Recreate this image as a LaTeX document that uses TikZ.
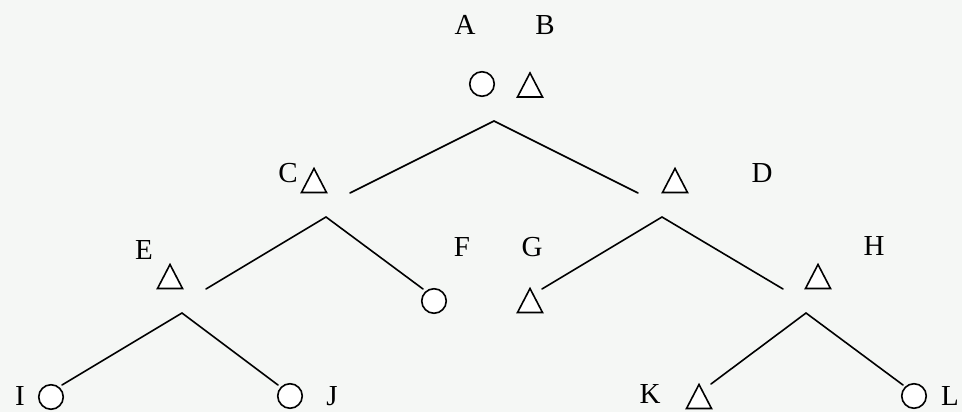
\documentclass[tikz,border=0pt]{standalone}
\usepackage{fontspec}
\setmainfont{Liberation Serif}
\definecolor{bgc}{HTML}{F5F7F5}
\tikzset{
  lbl/.style={inner sep=0pt, font=\fontsize{29}{31}\selectfont},
  edge/.style={line width=1.6pt, line cap=round},
  shp/.style={line width=1.6pt, fill=white, draw=black},
  circ/.style={shp, circle, inner sep=0pt, minimum size=24.5pt},
  tri/.pic={\path[shp] (-12.5,12) -- (0,-12) -- (12.5,12) -- cycle;}
}
\begin{document}
\begin{tikzpicture}[x=1pt,y=-1pt]
\fill[bgc] (0,0) rectangle (962,412);
\useasboundingbox (0,0) rectangle (962,412);
% labels
\node[lbl] (lA) at (465,25) {A};
\node[lbl] (lB) at (545,25) {B};
\node[lbl] (lC) at (288,173) {C};
\node[lbl] (lD) at (762,173) {D};
\node[lbl] (lE) at (144,250) {E};
\node[lbl] (lF) at (462,247) {F};
\node[lbl] (lG) at (532,247) {G};
\node[lbl] (lH) at (874,246) {H};
\node[lbl] (lI) at (20,396) {I};
\node[lbl] (lJ) at (332,396) {J};
\node[lbl] (lK) at (650,394) {K};
\node[lbl] (lL) at (950,396) {L};
% shapes
\node[circ] (sA) at (482,84) {};
\pic (sB) at (530,85) {tri};
\pic (sC) at (314,180.5) {tri};
\pic (sD) at (675,180.5) {tri};
\pic (sE) at (170,276.5) {tri};
\node[circ] (sF) at (434,301) {};
\pic (sG) at (530,300.5) {tri};
\pic (sH) at (818,276.5) {tri};
\node[circ] (sI) at (51,397) {};
\node[circ] (sJ) at (290,396) {};
\pic (sK) at (699,396.5) {tri};
\node[circ] (sL) at (914,396) {};
% junctions and line ends
\coordinate (r) at (494,121);
\coordinate (rl) at (350,193);
\coordinate (rr) at (638,193);
\coordinate (cj) at (326,217);
\coordinate (ce) at (206,289);
\coordinate (cf) at (423,289);
\coordinate (dj) at (662,217);
\coordinate (dg) at (542,289);
\coordinate (dh) at (783,289);
\coordinate (ej) at (182,313);
\coordinate (ei) at (62,385);
\coordinate (ejj) at (278,385);
\coordinate (hj) at (806,313);
\coordinate (hk) at (711,384);
\coordinate (hl) at (903,385);
% connectors
\draw[edge] (rl) -- (r) -- (rr);
\draw[edge] (ce) -- (cj) -- (cf);
\draw[edge] (dg) -- (dj) -- (dh);
\draw[edge] (ei) -- (ej) -- (ejj);
\draw[edge] (hk) -- (hj) -- (hl);
\end{tikzpicture}
\end{document}
